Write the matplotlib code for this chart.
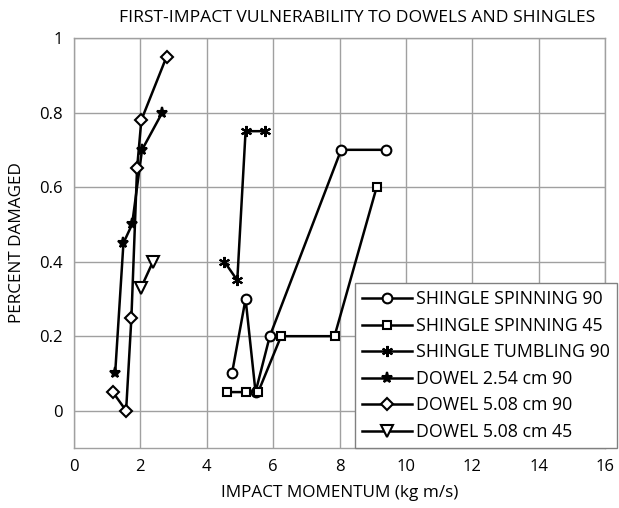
import matplotlib.pyplot as plt

plt.rcParams['font.family'] = ['Open Sans', 'DejaVu Sans']

# data
spin90_x = [4.76, 5.17, 5.47, 5.90, 8.05, 9.39]
spin90_y = [0.10, 0.30, 0.05, 0.20, 0.70, 0.70]

spin45_x = [4.61, 5.17, 5.55, 6.24, 7.85, 9.12]
spin45_y = [0.05, 0.05, 0.05, 0.20, 0.20, 0.60]

tumb90_x = [4.53, 4.92, 5.17, 5.76]
tumb90_y = [0.40, 0.35, 0.75, 0.75]

dowel254_x = [1.24, 1.49, 1.75, 2.05, 2.66]
dowel254_y = [0.10, 0.45, 0.50, 0.70, 0.80]

dowel508_90_x = [1.17, 1.57, 1.73, 1.90, 2.03, 2.79]
dowel508_90_y = [0.05, 0.00, 0.25, 0.65, 0.78, 0.95]

dowel508_45_x = [2.02, 2.38]
dowel508_45_y = [0.33, 0.40]

x_ticks = [0, 2, 4, 6, 8, 10, 12, 14, 16]
y_ticks = [0, 0.2, 0.4, 0.6, 0.8, 1]
y_tick_labels = ['0', '0.2', '0.4', '0.6', '0.8', '1']

series = [
    (spin90_x, spin90_y, 'o', 7, 'SHINGLE SPINNING 90'),
    (spin45_x, spin45_y, 's', 6, 'SHINGLE SPINNING 45'),
    (tumb90_x, tumb90_y, (6, 2, 0), 8, 'SHINGLE TUMBLING 90'),
    (dowel254_x, dowel254_y, '*', 8, 'DOWEL 2.54 cm 90'),
    (dowel508_90_x, dowel508_90_y, 'D', 6, 'DOWEL 5.08 cm 90'),
    (dowel508_45_x, dowel508_45_y, 'v', 8, 'DOWEL 5.08 cm 45'),
]

fig = plt.figure(figsize=(6.19, 5.08), dpi=100)
ax = fig.add_axes([74 / 619, 1 - 448 / 508, (605 - 74) / 619, (448 - 38) / 508])

for xs, ys, mk, ms, lab in series:
    filled = mk in ('*', (6, 2, 0))
    ax.plot(xs, ys, color='black', lw=1.8, marker=mk, markersize=ms,
            markerfacecolor='black' if filled else 'white',
            markeredgecolor='black', markeredgewidth=1.5, label=lab)

ax.set_xlim(0, 16)
ax.set_ylim(-0.1, 1.0)
ax.set_xticks(x_ticks)
ax.set_yticks(y_ticks)
ax.set_yticklabels(y_tick_labels)
ax.tick_params(length=0, labelsize=12, pad=8)
ax.grid(True, color='#a0a0a0', lw=1.0)
ax.set_axisbelow(True)
for sp in ax.spines.values():
    sp.set_color('#a0a0a0')
    sp.set_linewidth(1.0)

ax.set_xlabel('IMPACT MOMENTUM (kg m/s)', fontsize=12.3, labelpad=7)
ax.set_ylabel('PERCENT DAMAGED', fontsize=12.3, labelpad=10)
fig.text(357 / 619, 1 - 18 / 508, 'FIRST-IMPACT VULNERABILITY TO DOWELS AND SHINGLES',
         ha='center', va='center', fontsize=12.6)

leg = ax.legend(loc='lower right', bbox_to_anchor=(617 / 619, 1 - 448 / 508),
                bbox_transform=fig.transFigure, fontsize=12.8, frameon=True,
                fancybox=False, edgecolor='#808080', framealpha=1,
                handlelength=2.8, handletextpad=0.25, labelspacing=0.48,
                borderpad=0.4, borderaxespad=0)
leg.get_frame().set_linewidth(1.0)

fig.savefig('out.png', dpi=100)
